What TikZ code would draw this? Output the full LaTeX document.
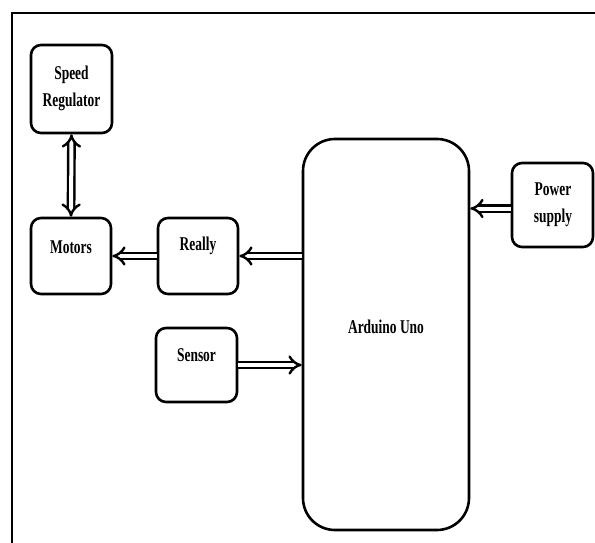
\documentclass[tikz,border=0pt]{standalone}
\usepackage{fontspec}
\setmainfont{Liberation Serif}[FakeStretch=0.69]
\usetikzlibrary{arrows.meta}
\begin{document}
\begin{tikzpicture}[x=1pt,y=-1pt,
  box/.style={draw,line width=2.6pt,rounded corners=10pt,inner sep=0pt},
  lbl/.style={font=\fontsize{19.5}{27}\selectfont\bfseries,align=center,inner sep=0pt},
  dbl/.style={double,double distance=4pt,line width=2.4pt,-{Implies}},
  dbl2/.style={double,double distance=4pt,line width=2.4pt,{Implies}-{Implies}}]
\useasboundingbox (0,0) rectangle (595,543);
\draw[line width=2.5pt] (12,543) -- (12,13) -- (595,13);
% boxes
\node[box,minimum width=81pt,minimum height=88pt] (spd) at (71.5,89) {};
\node[box,minimum width=80pt,minimum height=76pt] (mot) at (71,256) {};
\node[box,minimum width=80pt,minimum height=76pt] (rel) at (198,256) {};
\node[box,minimum width=81pt,minimum height=74pt] (sen) at (196.5,365) {};
\node[box,rounded corners=32pt,minimum width=166pt,minimum height=391pt] (ard) at (386,334.5) {};
\node[box,minimum width=81pt,minimum height=84pt] (pow) at (552.5,205) {};
% texts
\node[lbl] (spdt) at (71.5,88) {Speed\\Regulator};
\node[lbl] (mott) at (71,247) {Motors};
\node[lbl] (relt) at (198,246) {Really};
\node[lbl] (sent) at (196.5,355) {Sensor};
\node[lbl] (ardt) at (386,327) {Arduino Uno};
\node[lbl] (powt) at (553,205) {Power\\supply};
% connectors
\coordinate (powin) at ([yshift=-3.5pt]pow.west);
\draw[dbl2] (spd.south) -- (mot.north);
\draw[dbl] (rel.west) -- (mot.east);
\draw[dbl] (ard.west |- rel.east) -- (rel.east);
\draw[dbl] (sen.east) -- (ard.west |- sen.east);
\draw[dbl] (powin) -- (ard.east |- powin);
\end{tikzpicture}
\end{document}
